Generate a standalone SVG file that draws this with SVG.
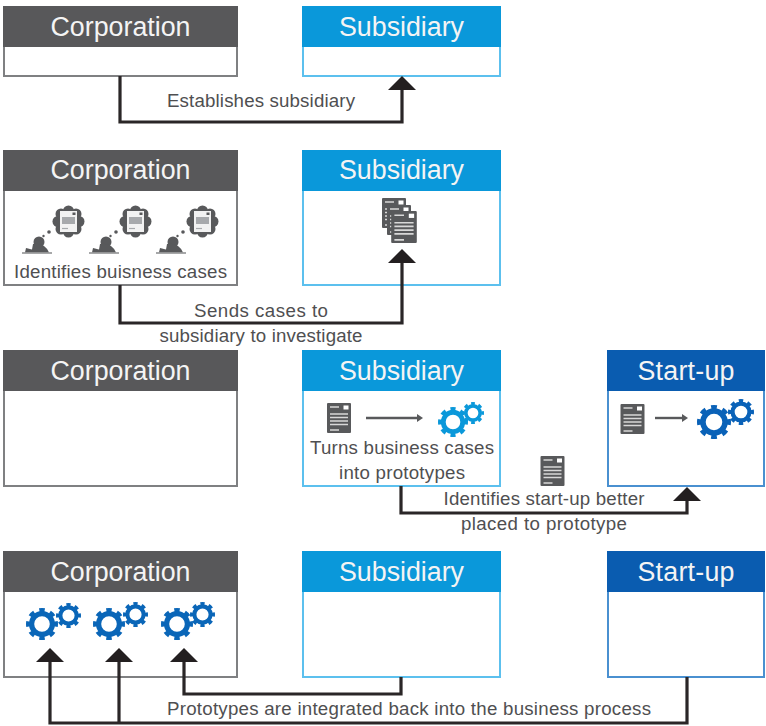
<svg xmlns="http://www.w3.org/2000/svg" width="766" height="726" viewBox="0 0 766 726">
<style>
text{font-family:"Liberation Sans",Arial,sans-serif}
.h{font-size:26.800px;fill:#f4f4f4;text-anchor:middle}
.l{font-size:18.700px;fill:#4f4f51;text-anchor:middle}
.g{fill:#fff;stroke:#7f8082;stroke-width:2}
.s{fill:#fff;stroke:#5cc0ee;stroke-width:2}
.u{fill:#fff;stroke:#4a90d0;stroke-width:2}
.gh{fill:#58585a}.sh{fill:#0a98da}.uh{fill:#0a5cb0}
.c{fill:none;stroke:#2a2627;stroke-width:3.200;stroke-linejoin:miter}
.a{fill:#231f20}
.m{fill:none;stroke:#58595b;stroke-width:2.400}
.wl{stroke:#d8d8d8;stroke-width:1.600}
</style>
<defs>
<symbol id="doc" viewBox="0 0 24 30" overflow="visible">
<rect width="24" height="30" rx="1" fill="#58595b"/>
<rect x="16.500" y="2.500" width="5" height="4" fill="#fff"/>
<path class="wl" d="M3 4h9M3 11h18M3 14.500h18M3 18h18M3 21.500h18M3 27h9" fill="none"/>
</symbol>
<symbol id="gear" viewBox="-20 -20 40 40" overflow="visible">
<circle r="17.500" fill="none" stroke="currentColor" stroke-width="5" pathLength="8" stroke-dasharray="0.500 0.500" stroke-dashoffset="0.250"/>
<circle r="13" fill="none" stroke="currentColor" stroke-width="6.500"/>
</symbol>
<symbol id="thinker" viewBox="0 0 62 50" overflow="visible">
<circle cx="46.500" cy="16.500" r="12.500" fill="#58595b"/>
<circle cx="46.500" cy="6" r="5.500" fill="#58595b"/><circle cx="54" cy="9" r="5.500" fill="#58595b"/><circle cx="57" cy="16.500" r="5.500" fill="#58595b"/><circle cx="54" cy="24" r="5.500" fill="#58595b"/><circle cx="46.500" cy="27" r="5.500" fill="#58595b"/><circle cx="39" cy="24" r="5.500" fill="#58595b"/><circle cx="36" cy="16.500" r="5.500" fill="#58595b"/><circle cx="39" cy="9" r="5.500" fill="#58595b"/>
<rect x="38" y="6" width="17" height="21" fill="#f2f2f2"/>
<rect x="40" y="12" width="13" height="7" fill="#a7a9ac"/>
<path d="M40 23.500h6" stroke="#a7a9ac" stroke-width="1.200"/>
<rect x="50.500" y="7.500" width="3" height="2.500" fill="#58595b"/>
<circle cx="27" cy="27" r="1.800" fill="#58595b"/><circle cx="21.500" cy="31" r="1.200" fill="#58595b"/><circle cx="18" cy="33.500" r="1" fill="#58595b"/>
<circle cx="17" cy="37" r="5.500" fill="#58595b"/>
<path d="M3 47.500 L4 43 L10 44.500 L11 39 Q18 38 22 41 Q26 44 27 47.500Z" fill="#58595b"/>
<path d="M0 48H30" stroke="#8a8b8d" stroke-width="1.500"/>
</symbol>
</defs>

<g id="corp1"><rect class="g" x="4" y="7" width="233" height="69"/><rect class="gh" x="3" y="6" width="235" height="41"/><text class="h" x="120.500" y="36" textLength="140">Corporation</text></g>
<g id="sub1"><rect class="s" x="303" y="7" width="197" height="69"/><rect class="sh" x="302" y="6" width="199" height="41"/><text class="h" x="401.500" y="36" textLength="125">Subsidiary</text></g>
<g id="label1"><text class="l" x="261" y="107" textLength="188">Establishes subsidiary</text></g>

<g id="corp2"><rect class="g" x="4" y="151" width="233" height="134"/><rect class="gh" x="3" y="150" width="235" height="41"/><text class="h" x="120.500" y="179" textLength="140">Corporation</text>
<use href="#thinker" x="22" y="205" width="62" height="50"/><use href="#thinker" x="89" y="205" width="62" height="50"/><use href="#thinker" x="156" y="205" width="62" height="50"/>
<text class="l" x="120.500" y="278" textLength="213">Identifies buisness cases</text></g>
<g id="sub2"><rect class="s" x="303" y="151" width="197" height="134"/><rect class="sh" x="302" y="150" width="199" height="41"/><text class="h" x="401.500" y="179" textLength="125">Subsidiary</text>
<use href="#doc" x="382" y="198" width="24" height="30"/><use href="#doc" x="387" y="205" width="24" height="30"/><use href="#doc" x="391" y="211" width="26" height="32"/></g>
<g id="label2"><text class="l" x="261" y="317" textLength="134">Sends cases to</text><text class="l" x="261" y="342" textLength="203">subsidiary to investigate</text></g>

<g id="corp3"><rect class="g" x="4" y="351" width="233" height="135"/><rect class="gh" x="3" y="350" width="235" height="41"/><text class="h" x="120.500" y="380" textLength="140">Corporation</text></g>
<g id="sub3"><rect class="s" x="303" y="351" width="197" height="135"/><rect class="sh" x="302" y="350" width="199" height="41"/><text class="h" x="401.500" y="380" textLength="125">Subsidiary</text>
<use href="#doc" x="327" y="403" width="24" height="30"/>
<path class="m" d="M366 418H420"/><path d="M417 414L423 418L417 422Z" fill="#58595b"/>
<use href="#gear" x="438" y="407" width="30" height="30" color="#0a98da"/><use href="#gear" x="462" y="402" width="22" height="22" color="#0a98da"/>
<text class="l" x="402" y="454" textLength="184">Turns business cases</text><text class="l" x="402" y="479" textLength="126">into prototypes</text></g>
<g id="start3"><rect class="u" x="608" y="351" width="156" height="135"/><rect class="uh" x="607" y="350" width="158" height="41"/><text class="h" x="686" y="380" textLength="97">Start-up</text>
<use href="#doc" x="620" y="404" width="25" height="30"/>
<path class="m" d="M655 418H684"/><path d="M682 414L688 418L682 422Z" fill="#58595b"/>
<use href="#gear" x="697" y="405" width="34" height="34" color="#0a62b8"/><use href="#gear" x="728" y="399" width="26" height="26" color="#0a62b8"/></g>
<g id="label3"><use href="#doc" x="540" y="456" width="25" height="30"/><text class="l" x="544" y="505" textLength="201">Identifies start-up better</text><text class="l" x="544" y="530" textLength="166">placed to prototype</text></g>

<g id="corp4"><rect class="g" x="4" y="552" width="233" height="125"/><rect class="gh" x="3" y="551" width="235" height="41"/><text class="h" x="120.500" y="581" textLength="140">Corporation</text>
<use href="#gear" x="26" y="608" width="32" height="32" color="#0a66b8"/><use href="#gear" x="56" y="603" width="25" height="25" color="#0a66b8"/>
<use href="#gear" x="93" y="608" width="32" height="32" color="#0a66b8"/><use href="#gear" x="123" y="602" width="25" height="25" color="#0a66b8"/>
<use href="#gear" x="161" y="608" width="32" height="32" color="#0a66b8"/><use href="#gear" x="190" y="602" width="25" height="25" color="#0a66b8"/></g>
<g id="sub4"><rect class="s" x="303" y="552" width="197" height="125"/><rect class="sh" x="302" y="551" width="199" height="41"/><text class="h" x="401.500" y="581" textLength="125">Subsidiary</text></g>
<g id="start4"><rect class="u" x="608" y="552" width="156" height="125"/><rect class="uh" x="607" y="551" width="158" height="41"/><text class="h" x="686" y="581" textLength="97">Start-up</text></g>
<g id="label4"><text class="l" x="409" y="715" textLength="484">Prototypes are integrated back into the business process</text></g>

<g id="connectors">
<path class="c" d="M120 76V122H402V90"/><path class="a" d="M402 76L416 90H388Z"/>
<path class="c" d="M120 285V323H402V263"/><path class="a" d="M402 249L416 263H388Z"/>
<path class="c" d="M401 486V513H687V501"/><path class="a" d="M687 487L701 501H673Z"/>
<path class="c" d="M401 677V694H184V660"/><path class="a" d="M184 648L198 662H170Z"/>
<path class="c" d="M687 677V723H50V660"/><path class="a" d="M50 648L64 662H36Z"/>
<path class="c" d="M119 723V660"/><path class="a" d="M119 648L133 662H105Z"/>
</g>
</svg>
